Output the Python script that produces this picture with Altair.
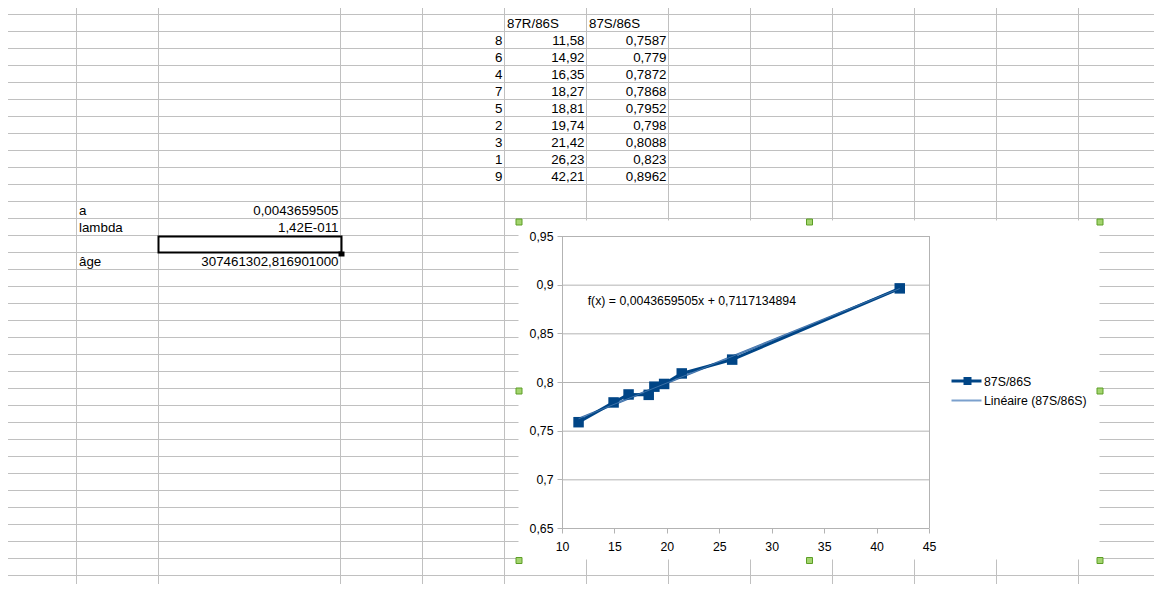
import altair as alt
import pandas as pd

# ---------------- data (read from the sheet) ----------------
sample_ids = [8, 6, 4, 7, 5, 2, 3, 1, 9]
rb_sr = [11.58, 14.92, 16.35, 18.27, 18.81, 19.74, 21.42, 26.23, 42.21]
sr_sr = [0.7587, 0.779, 0.7872, 0.7868, 0.7952, 0.798, 0.8088, 0.823, 0.8962]
col_headers = ["87R/86S", "87S/86S"]
param_names = ["a", "lambda", "", "âge"]
param_values = ["0,0043659505", "1,42E-011", "", "307461302,816901000"]
x_ticks = [10, 15, 20, 25, 30, 35, 40, 45]
y_ticks = [0.65, 0.7, 0.75, 0.8, 0.85, 0.9, 0.95]
equation = "f(x) = 0,0043659505x + 0,7117134894"
legend_labels = ["87S/86S", "Linéaire (87S/86S)"]

# ---------------- layout (page pixels) ----------------
PW, PH, M = 1162, 592, 8
COLS = {
    "A": (-6, 76), "B": (76, 158), "C": (158, 340), "D": (340, 422),
    "E": (422, 504), "F": (504, 586), "G": (586, 668), "H": (668, 750),
    "I": (750, 832), "J": (832, 914), "K": (914, 996), "L": (996, 1078),
    "M": (1078, 1160), "N": (1160, 1242),
}
ROW_H, ROW0_TOP, N_ROWS = 17, -3, 37
FONT = "Liberation Sans"
SHEET_FS = 13.33
CHART_FS = 12.3
GRID_SHEET = "#c0c0c0"
GRID_CHART = "#b3b3b3"
SERIES = "#004586"
TREND = "#7ba0cd"
TREND_PLOT = "#3b6ea8"
CHART_BOX = (518, 220, 1099, 559)
PLOT_X = (562, 929)
PLOT_Y = (528, 236)

def row_top(r):
    return ROW0_TOP + ROW_H * r

SX = alt.Scale(domain=[0, PW], range=[-M + 0.5, PW - M + 0.5], nice=False, zero=False)
SY = alt.Scale(domain=[0, PH], range=[-M + 0.5, PH - M + 0.5], nice=False, zero=False)

def sx(f):
    return alt.X(f, type="quantitative", scale=SX, axis=None)

def sy(f):
    return alt.Y(f, type="quantitative", scale=SY, axis=None)

# ---------------- spreadsheet grid ----------------
vlines = pd.DataFrame({"x": [c[1] for c in COLS.values() if 0 < c[1] < PW]})
vlines["y0"], vlines["y1"] = 0, PH
hl = [row_top(r) for r in range(N_ROWS) if 0 < row_top(r) < PH]
hlines = pd.DataFrame({"y": hl})
hlines["x0"], hlines["x1"] = 0, PW

grid_v = alt.Chart(vlines).mark_rule(color=GRID_SHEET, strokeWidth=1).encode(
    x=sx("x"), y=sy("y0"), y2="y1")
grid_h = alt.Chart(hlines).mark_rule(color=GRID_SHEET, strokeWidth=1).encode(
    y=sy("y"), x=sx("x0"), x2="x1")

# ---------------- cell texts ----------------
cells = []
for c, t in zip(["F", "G"], col_headers):
    cells.append((c, 1, t, "left"))
for i, (sid, a, b) in enumerate(zip(sample_ids, rb_sr, sr_sr)):
    r = 2 + i
    cells.append(("E", r, str(sid), "right"))
    cells.append(("F", r, f"{a:.2f}".replace(".", ","), "right"))
    cells.append(("G", r, str(b).replace(".", ","), "right"))
for i, (n, v) in enumerate(zip(param_names, param_values)):
    r = 12 + i
    if n:
        cells.append(("B", r, n, "left"))
    if v:
        cells.append(("C", r, v, "right"))

rows = []
for c, r, t, al in cells:
    l, rr = COLS[c]
    rows.append({"x": (l + 2.5) if al == "left" else (rr - 2), "y": row_top(r) + 13.5,
                 "t": t, "al": al})
cells_df = pd.DataFrame(rows)

txt_left = alt.Chart(cells_df[cells_df.al == "left"]).mark_text(
    align="left", baseline="alphabetic", font=FONT, fontSize=SHEET_FS, color="black"
).encode(x=sx("x"), y=sy("y"), text="t:N")
txt_right = alt.Chart(cells_df[cells_df.al == "right"]).mark_text(
    align="right", baseline="alphabetic", font=FONT, fontSize=SHEET_FS, color="black"
).encode(x=sx("x"), y=sy("y"), text="t:N")

# selected cell C14
sel = pd.DataFrame({"x0": [COLS["C"][0]], "x1": [COLS["C"][1] + 1],
                    "y0": [row_top(14) + 1], "y1": [row_top(15)]})
sel_rect = alt.Chart(sel).mark_rect(fill="white", fillOpacity=0, stroke="black",
                                    strokeWidth=2).encode(
    x=sx("x0"), x2="x1", y=sy("y0"), y2="y1")
selh = pd.DataFrame({"x0": [COLS["C"][1] - 2], "x1": [COLS["C"][1] + 4],
                     "y0": [row_top(15) - 1], "y1": [row_top(15) + 4]})
sel_handle = alt.Chart(selh).mark_rect(color="black").encode(
    x=sx("x0"), x2="x1", y=sy("y0"), y2="y1")

# chart background
bg = pd.DataFrame({"x0": [CHART_BOX[0]], "x1": [CHART_BOX[2]],
                   "y0": [CHART_BOX[1]], "y1": [CHART_BOX[3]]})
chart_bg = alt.Chart(bg).mark_rect(color="white").encode(
    x=sx("x0"), x2="x1", y=sy("y0"), y2="y1")

sheet_base = alt.layer(grid_v, grid_h, txt_left, txt_right, sel_rect, sel_handle, chart_bg)

# ---------------- the chart ----------------
CX = alt.Scale(domain=[x_ticks[0], x_ticks[-1]], range=[PLOT_X[0] - M, PLOT_X[1] - M],
               nice=False, zero=False)
CY = alt.Scale(domain=[y_ticks[0], y_ticks[-1]], range=[PLOT_Y[0] - M, PLOT_Y[1] - M],
               nice=False, zero=False)
VIEW_W, VIEW_H = PW - 2 * M, PH - 2 * M

x_axis = alt.Axis(orient="bottom", offset=(PLOT_Y[0] - M) - VIEW_H, values=x_ticks,
                  grid=False, domainColor=GRID_CHART, tickColor=GRID_CHART, tickSize=5,
                  labelFont=FONT, labelFontSize=CHART_FS, labelColor="black",
                  labelPadding=7, labelFlush=False, labelOverlap=False, title="", zindex=1)
y_axis = alt.Axis(orient="left", offset=-(PLOT_X[0] - M), values=y_ticks,
                  grid=False, domainColor=GRID_CHART, tickColor=GRID_CHART, tickSize=5,
                  labelFont=FONT, labelFontSize=CHART_FS, labelColor="black",
                  labelPadding=4, labelFlush=False, labelOverlap=False,
                  labelExpr="replace(format(datum.value, '.2~f'), '.', ',')",
                  title="", zindex=1)

def cx(f):
    return alt.X(f, type="quantitative", scale=CX, axis=x_axis, title="")

def cy(f):
    return alt.Y(f, type="quantitative", scale=CY, axis=y_axis, title="")

df = pd.DataFrame({"x": rb_sr, "y": sr_sr})

gdf = pd.DataFrame({"v": y_ticks})
gdf["x0"], gdf["x1"] = x_ticks[0], x_ticks[-1]
gridlines = alt.Chart(gdf).mark_rule(color=GRID_CHART, strokeWidth=1, yOffset=0.5).encode(
    y=cy("v"), x=cx("x0"), x2="x1")
rb = pd.DataFrame({"x": [x_ticks[-1]], "y0": [y_ticks[0]], "y1": [y_ticks[-1]]})
right_border = alt.Chart(rb).mark_rule(color=GRID_CHART, strokeWidth=1, xOffset=0.5).encode(
    x=cx("x"), y=cy("y0"), y2="y1")

trend = alt.Chart(df).transform_regression("x", "y").mark_line(
    color=TREND_PLOT, strokeWidth=2).encode(x=cx("x"), y=cy("y"))
series_line = alt.Chart(df).mark_line(color=SERIES, strokeWidth=3).encode(x=cx("x"), y=cy("y"))
series_pts = alt.Chart(df).mark_square(color=SERIES, size=110, opacity=1, filled=True).encode(
    x=cx("x"), y=cy("y"))
trend_top = alt.Chart(df).transform_regression("x", "y").mark_line(
    color=TREND, strokeWidth=0.8, opacity=0.6).encode(x=cx("x"), y=cy("y"))

eq_df = pd.DataFrame({"x": [12.45], "y": [0.879], "t": [equation]})
eq_text = alt.Chart(eq_df).mark_text(align="left", baseline="alphabetic", font=FONT,
                                     fontSize=CHART_FS, color="black").encode(
    x=cx("x"), y=cy("y"), text="t:N")

chart = alt.layer(gridlines, right_border, trend, series_line, series_pts, trend_top, eq_text)

# ---------------- legend + selection handles (sheet coordinates) ----------------
leg_y = [380.5, 400]
leg_lines = pd.DataFrame({"x0": [951, 951], "x1": [981, 981], "y": leg_y})
leg_rule1 = alt.Chart(leg_lines.iloc[[0]]).mark_rule(color=SERIES, strokeWidth=3).encode(
    x=sx("x0"), x2="x1", y=sy("y"))
leg_rule2 = alt.Chart(leg_lines.iloc[[1]]).mark_rule(color=TREND, strokeWidth=2).encode(
    x=sx("x0"), x2="x1", y=sy("y"))
leg_sq = alt.Chart(pd.DataFrame({"x": [967], "y": [leg_y[0]]})).mark_square(
    color=SERIES, size=64, opacity=1, filled=True).encode(x=sx("x"), y=sy("y"))
leg_txt = alt.Chart(pd.DataFrame({"x": [983.5, 983.5], "y": [385.2, 404.5],
                                  "t": legend_labels})).mark_text(
    align="left", baseline="alphabetic", font=FONT, fontSize=CHART_FS, color="black"
).encode(x=sx("x"), y=sy("y"), text="t:N")

hx = [518.5, 809, 1099.5]
hy = [221.5, 390.5, 560]
hrows = []
for i, x in enumerate(hx):
    for j, y in enumerate(hy):
        if i == 1 and j == 1:
            continue
        hrows.append({"x0": x - 3, "x1": x + 3, "y0": y - 3, "y1": y + 3})
handles = alt.Chart(pd.DataFrame(hrows)).mark_rect(
    fill="#a3d46e", stroke="#5c9e26", strokeWidth=1).encode(
    x=sx("x0"), x2="x1", y=sy("y0"), y2="y1")

sheet_top = alt.layer(leg_rule1, leg_rule2, leg_sq, leg_txt, handles)

final = alt.layer(sheet_base, chart, sheet_top).resolve_scale(
    x="independent", y="independent"
).properties(
    width=VIEW_W, height=VIEW_H, padding=0,
    autosize=alt.AutoSizeParams(type="none"), background="white"
).configure_view(stroke="transparent")

final.save("out.html", embed_options={"renderer": "svg", "actions": False})
